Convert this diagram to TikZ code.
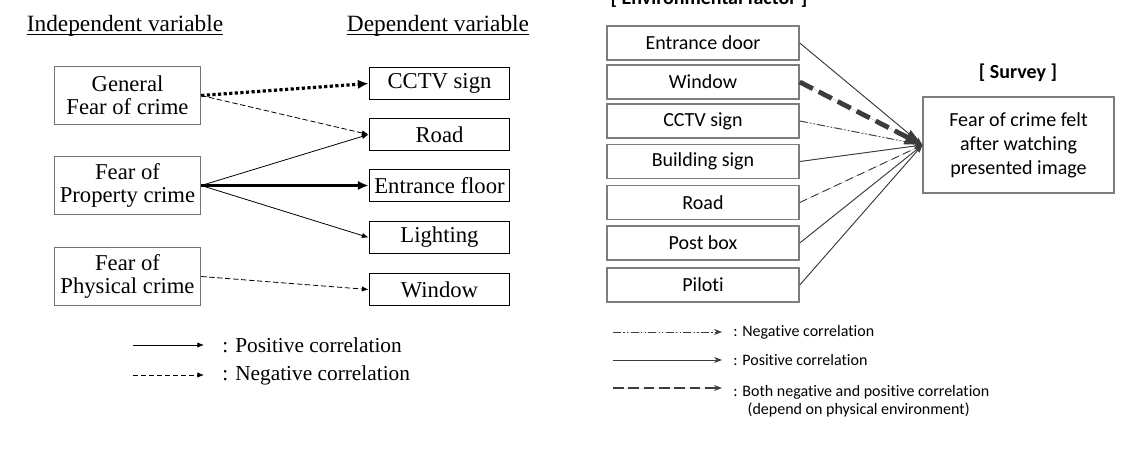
\documentclass[tikz,border=0pt]{standalone}
\usepackage{fontspec}
\setmainfont{Liberation Serif}
\setsansfont{Carlito}[Ligatures=NoCommon]
\usepackage{tikz}
\usetikzlibrary{calc}
\usetikzlibrary{arrows.meta}

\definecolor{boxgray}{RGB}{125,125,125}
\definecolor{arrowgray}{RGB}{60,60,60}

\begin{document}
\begin{tikzpicture}
  [
    x=0.75pt, y=-0.75pt,
    >={Latex[length=5pt,width=4pt]},
    indep/.style  = {draw=black!55, line width=0.6pt, rectangle, minimum width=110pt, minimum height=43pt, inner sep=1pt, align=center},
    dep/.style    = {draw, line width=0.9pt, rectangle, minimum width=105.5pt, minimum height=24.5pt, inner sep=1pt},
    factor/.style = {draw=boxgray, line width=1.1pt, rectangle, minimum width=144pt, minimum height=25.5pt, inner sep=1pt, font=\sffamily\fontsize{15}{18}\selectfont},
    surveybox/.style = {draw=boxgray, line width=1.1pt, rectangle, minimum width=143pt, minimum height=72pt, align=center, font=\sffamily\fontsize{15}{18}\selectfont},
    title/.style  = {anchor=base, inner sep=0pt, font=\fontsize{17.5}{20}\selectfont},
    head/.style   = {anchor=base, inner sep=0pt, font=\sffamily\bfseries\fontsize{15}{18}\selectfont},
    legtxt/.style = {anchor=west, inner sep=0pt},
    rlegtxt/.style = {anchor=west, inner sep=0pt, align=left, font=\sffamily\fontsize{12}{13.5}\selectfont},
    posarrow/.style = {->, line width=0.6pt},
    negarrow/.style = {->, line width=0.6pt, dash pattern=on 4pt off 2pt},
    rpos/.style   = {-{Stealth[length=6pt,width=4.5pt]}, draw=arrowgray, fill=arrowgray, line width=0.7pt},
    rneg/.style   = {rpos, dash pattern=on 6pt off 1.8pt on 0.9pt off 1.8pt on 0.9pt off 1.8pt},
    rboth/.style  = {rpos, dash pattern=on 6pt off 3.5pt},
  ]

  \tikzstyle{every node}=[font=\fontsize{17}{17.5}\selectfont]

  \useasboundingbox (0,0) rectangle (1134,460);
  \clip (0,0) rectangle (1134,460);

  % left: variables
  \def\indx{127.5}
  \def\depx{439.5}

  \node (indtitle) at (125,32) [title] {Independent variable};
  \node (deptitle) at (438,32) [title] {Dependent variable};
  \draw[line width=0.6pt] ($(indtitle.base west)+(0,2.5)$) -- ($(indtitle.base east)+(0,2.5)$);
  \draw[line width=0.6pt] ($(deptitle.base west)+(0,2.5)$) -- ($(deptitle.base east)+(0,2.5)$);

  \node (gen)  at (\indx,95.5)  [indep] {General\\Fear of crime};
  \node (prop) at (\indx,185.5) [indep] {Fear of\\Property crime};
  \node (phys) at (\indx,276.5) [indep] {Fear of\\Physical crime};

  \node (cctv)  at (\depx,83.5)  [dep] {CCTV sign};
  \node (road)  at (\depx,134.5) [dep] {Road};
  \node (floor) at (\depx,185.5) [dep] {Entrance floor};
  \node (light) at (\depx,237.5) [dep] {Lighting};
  \node (win)   at (\depx,289.5) [dep] {Window};

  \draw[->, line width=2.4pt, dash pattern=on 2.4pt off 1.8pt, >={Latex[length=8pt,width=7pt]}] (gen.east) -- (cctv.west);
  \draw[negarrow] (gen.east) -- (road.west);
  \draw[posarrow] (prop.east) -- (road.west);
  \draw[->, line width=2.5pt, >={Latex[length=8pt,width=7pt]}] (prop.east) -- (floor.west);
  \draw[posarrow] (prop.east) -- (light.west);
  \draw[negarrow] (phys.east) -- (win.west);

  % left legend
  \coordinate (lp0) at (133,345);
  \coordinate (lp1) at (204,345);
  \coordinate (ln0) at (133,375);
  \coordinate (ln1) at (204,375);
  \draw[posarrow] (lp0) -- (lp1);
  \draw[negarrow] (ln0) -- (ln1);
  \node (lptxt) at (222,345) [legtxt, font=\fontsize{16}{18}\selectfont] {: Positive correlation};
  \node (lntxt) at (222,375) [legtxt, font=\fontsize{16}{18}\selectfont] {: Negative correlation};

  % right: environmental factors
  \def\facx{703}

  \node (envtitle)  at (709,5)   [head] {[ Environmental factor ]};
  \node (survtitle) at (1018,79) [head] {[ Survey ]};

  \node (fdoor)   at (\facx,43)    [factor] {Entrance door};
  \node (fwin)    at (\facx,82)    [factor] {Window};
  \node (fcctv)   at (\facx,121)   [factor] {CCTV sign};
  \node (fbsign)  at (\facx,161.5) [factor] {Building sign};
  \node (froad)   at (\facx,202.5) [factor] {Road};
  \node (fpost)   at (\facx,243)   [factor] {Post box};
  \node (fpiloti) at (\facx,285)   [factor] {Piloti};

  \node (survey) at (1018.5,145) [surveybox] {Fear of crime felt\\after watching\\presented image};

  \draw[rpos]  (fdoor.east) -- (survey.west);
  \draw[rboth, line width=3.6pt, dash pattern=on 11pt off 5pt, -{Triangle[length=13pt,width=11pt]}] (fwin.east) -- (survey.west);
  \draw[rneg]  (fcctv.east) -- (survey.west);
  \draw[rpos]  (fbsign.east) -- (survey.west);
  \draw[rboth] (froad.east) -- (survey.west);
  \draw[rpos]  (fpost.east) -- (survey.west);
  \draw[rpos]  (fpiloti.east) -- (survey.west);

  % right legend
  \coordinate (rn0) at (613,332);
  \coordinate (rn1) at (722,332);
  \coordinate (rp0) at (613,360);
  \coordinate (rp1) at (722,360);
  \coordinate (rb0) at (613,388);
  \coordinate (rb1) at (722,388);
  \draw[rneg] (rn0) -- (rn1);
  \draw[rpos] (rp0) -- (rp1);
  \draw[rboth, line width=1.4pt, dash pattern=on 8pt off 3.5pt] (rb0) -- (rb1);
  \node (rntxt) at (733,332) [rlegtxt] {: Negative correlation};
  \node (rptxt) at (733,360) [rlegtxt] {: Positive correlation};
  \node (rbtxt) at (733,401) [rlegtxt] {: Both negative and positive correlation\\\hspace{0.9em}(depend on physical environment)};

\end{tikzpicture}
\end{document}
